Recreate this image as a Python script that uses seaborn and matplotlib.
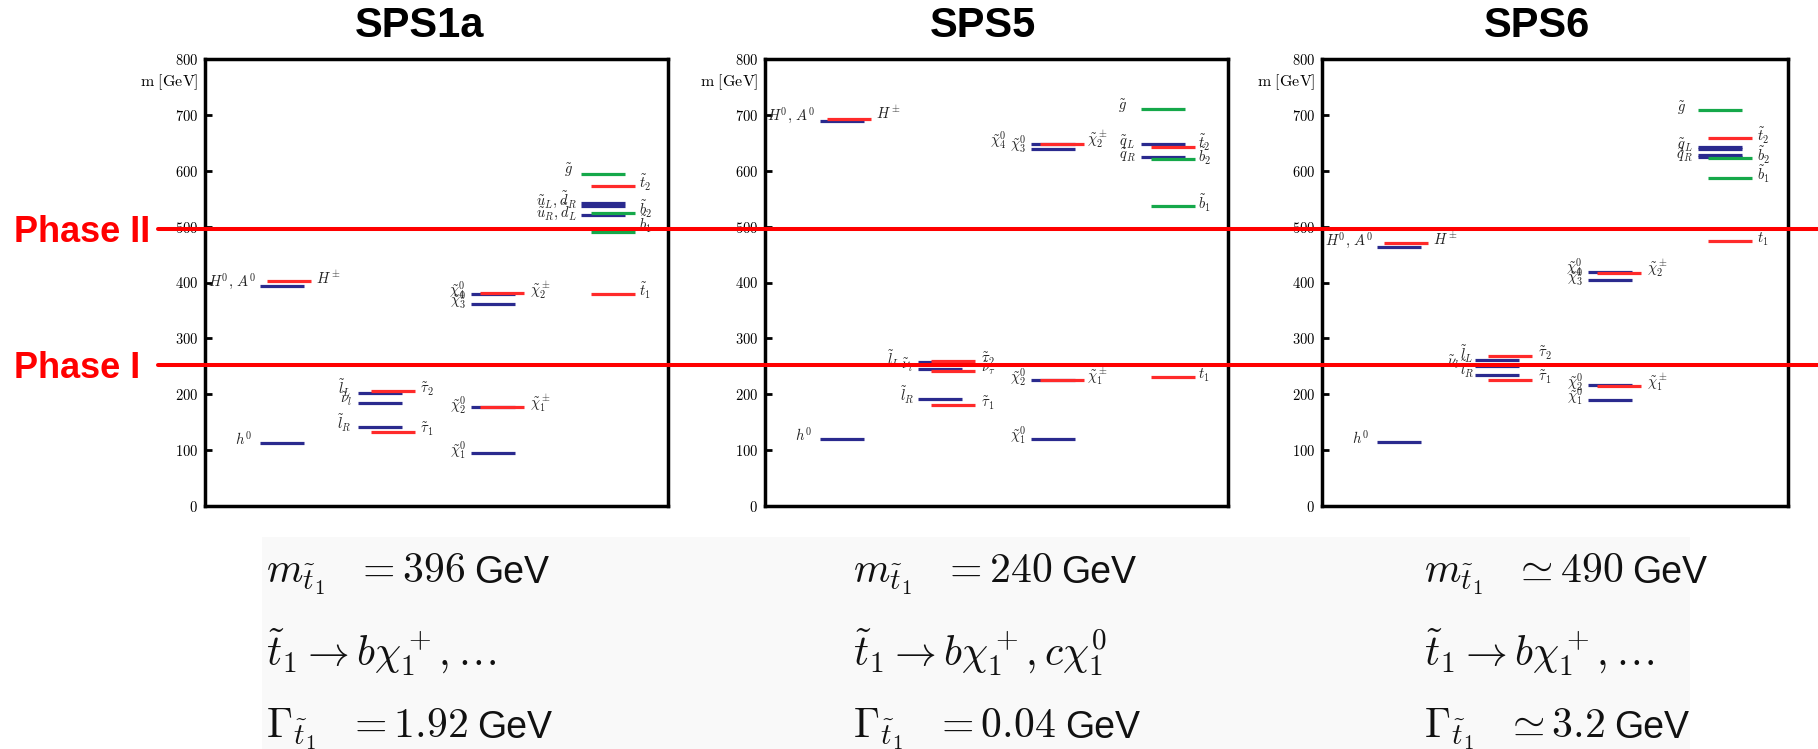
import matplotlib
matplotlib.use("Agg")
import matplotlib.pyplot as plt
import matplotlib.transforms as mtransforms
from matplotlib.lines import Line2D
from matplotlib.patches import Rectangle
import numpy as np
import pandas as pd
import seaborn as sns

# ---------------------------------------------------------------------------
# Mass spectra (GeV).  Column: 0 Higgs, 1 sleptons, 2 gauginos, 3 squarks/gluino
# ---------------------------------------------------------------------------
sps1a_names = ["h0", "H0A0", "Hpm", "lL", "nul", "lR", "tau2", "tau1",
               "chi10", "chi20", "chi30", "chi40", "chi1pm", "chi2pm",
               "gluino", "t2", "uL_dR", "uL_dR_b", "b2", "uR_dL", "b1", "t1"]
sps1a_cols = [0, 0, 0, 1, 1, 1, 1, 1, 2, 2, 2, 2, 2, 2, 3, 3, 3, 3, 3, 3, 3, 3]
sps1a_kind = ["blue", "blue", "red", "blue", "blue", "blue", "red", "red",
              "blue", "blue", "blue", "blue", "red", "red",
              "green", "red", "blue", "blue", "green", "blue", "green", "red"]
sps1a_mass = [113, 394, 402, 201.5, 185, 142, 206, 133,
              95, 177, 361, 380, 177, 382,
              595, 573, 543, 537, 524, 520, 491, 379]

sps5_names = ["h0", "H0A0", "Hpm", "lL", "nul", "lR", "tau2", "nutau", "tau1",
              "chi10", "chi20", "chi30", "chi40", "chi1pm", "chi2pm",
              "gluino", "qL", "t2", "qR", "b2", "b1", "t1"]
sps5_cols = [0, 0, 0, 1, 1, 1, 1, 1, 1, 2, 2, 2, 2, 2, 2, 3, 3, 3, 3, 3, 3, 3]
sps5_kind = ["blue", "blue", "red", "blue", "blue", "blue", "red", "red", "red",
             "blue", "blue", "blue", "blue", "red", "red",
             "green", "blue", "red", "blue", "green", "green", "red"]
sps5_mass = [120, 689, 693, 257.5, 245, 190.7, 259, 242, 180.6,
             120, 225.4, 639, 648.7, 225.4, 648.7,
             710, 647.5, 642.6, 624, 621.7, 536.4, 230]

sps6_names = ["h0", "H0A0", "Hpm", "lL", "nul", "lR", "tau2", "tau1",
              "chi10", "chi20", "chi30", "chi40", "chi1pm", "chi2pm",
              "gluino", "t2", "qL", "qL_b", "qR", "qR_b", "b2", "b1", "t1"]
sps6_cols = [0, 0, 0, 1, 1, 1, 1, 1, 2, 2, 2, 2, 2, 2, 3, 3, 3, 3, 3, 3, 3, 3, 3]
sps6_kind = ["blue", "blue", "red", "blue", "blue", "blue", "red", "red",
             "blue", "blue", "blue", "blue", "red", "red",
             "green", "red", "blue", "blue", "blue", "blue", "green", "green", "red"]
sps6_mass = [114.8, 464, 471, 262, 250, 234, 268, 226,
             189.5, 217.4, 404, 418.3, 215.6, 417,
             708, 658, 642, 638.5, 628, 625, 623, 587, 474]

titles = ["SPS1a", "SPS5", "SPS6"]

# Particle name labels: (tex, x offset in axis px, mass position, alignment)
sps1a_labels = [
    (r"$h^0$", 47, 120, "right"), (r"$H^0,\,A^0$", 51, 401, "right"),
    (r"$H^\pm$", 111, 408, "left"),
    (r"$\tilde{l}_L$", 147, 210, "right"), (r"$\tilde{\nu}_l$", 147, 190, "right"),
    (r"$\tilde{l}_R$", 147, 148, "right"),
    (r"$\tilde{\tau}_2$", 215, 209, "left"), (r"$\tilde{\tau}_1$", 215, 137, "left"),
    (r"$\tilde{\chi}_4^0$", 261, 386, "right"), (r"$\tilde{\chi}_3^0$", 261, 368, "right"),
    (r"$\tilde{\chi}_2^\pm$", 325, 386, "left"),
    (r"$\tilde{\chi}_2^0$", 261, 181, "right"), (r"$\tilde{\chi}_1^\pm$", 325, 184, "left"),
    (r"$\tilde{\chi}_1^0$", 261, 100, "right"),
    (r"$\tilde{g}$", 368, 601, "right"), (r"$\tilde{t}_2$", 434, 579, "left"),
    (r"$\tilde{u}_L,\tilde{d}_R$", 372, 548, "right"),
    (r"$\tilde{u}_R,\tilde{d}_L$", 372, 527, "right"),
    (r"$\tilde{b}_2$", 434, 531, "left"), (r"$\tilde{b}_1$", 434, 503, "left"),
    (r"$\tilde{t}_1$", 434, 385, "left"),
]
sps5_labels = [
    (r"$h^0$", 47, 127, "right"), (r"$H^0,\,A^0$", 50, 698, "right"),
    (r"$H^\pm$", 111, 703, "left"),
    (r"$\tilde{l}_L$", 136, 262, "right"), (r"$\tilde{\nu}_l$", 148, 252, "right"),
    (r"$\tilde{l}_R$", 150, 198, "right"),
    (r"$\tilde{\tau}_2$", 216, 262, "left"), (r"$\tilde{\nu}_\tau$", 216, 246, "left"),
    (r"$\tilde{\tau}_1$", 216, 184, "left"),
    (r"$\tilde{\chi}_4^0$", 242, 655, "right"), (r"$\tilde{\chi}_3^0$", 261, 647, "right"),
    (r"$\tilde{\chi}_2^\pm$", 322, 656, "left"),
    (r"$\tilde{\chi}_2^0$", 261, 231, "right"), (r"$\tilde{\chi}_1^\pm$", 322, 232, "left"),
    (r"$\tilde{\chi}_1^0$", 261, 127, "right"),
    (r"$\tilde{g}$", 362, 715, "right"),
    (r"$\tilde{q}_L$", 370, 651, "right"), (r"$\tilde{q}_R$", 371, 627, "right"),
    (r"$\tilde{t}_2$", 433, 649, "left"), (r"$\tilde{b}_2$", 433, 626, "left"),
    (r"$\tilde{b}_1$", 433, 541, "left"), (r"$\tilde{t}_1$", 433, 236, "left"),
]
sps6_labels = [
    (r"$h^0$", 47, 122, "right"), (r"$H^0,\,A^0$", 51, 474, "right"),
    (r"$H^\pm$", 111, 479, "left"),
    (r"$\tilde{l}_L$", 152, 271, "right"), (r"$\tilde{\nu}_l$", 137, 257, "right"),
    (r"$\tilde{l}_R$", 153, 244, "right"),
    (r"$\tilde{\tau}_2$", 216, 273, "left"), (r"$\tilde{\tau}_1$", 216, 230, "left"),
    (r"$\tilde{\chi}_4^0$", 261, 428, "right"), (r"$\tilde{\chi}_3^0$", 261, 410, "right"),
    (r"$\tilde{\chi}_2^\pm$", 325, 426, "left"),
    (r"$\tilde{\chi}_2^0$", 261, 222, "right"), (r"$\tilde{\chi}_1^0$", 261, 197, "right"),
    (r"$\tilde{\chi}_1^\pm$", 325, 222, "left"),
    (r"$\tilde{g}$", 364, 712, "right"), (r"$\tilde{t}_2$", 435, 663, "left"),
    (r"$\tilde{q}_L$", 371, 646, "right"), (r"$\tilde{q}_R$", 371, 627, "right"),
    (r"$\tilde{b}_2$", 435, 628, "left"), (r"$\tilde{b}_1$", 435, 593, "left"),
    (r"$\tilde{t}_1$", 435, 480, "left"),
]

# Light-stop summary lines under each panel: (math part, unit)
stop_mass_text = [(r"$m_{\tilde{t}_1}\;\;\,=396$", "GeV"),
                  (r"$m_{\tilde{t}_1}\;\;\,=240$", "GeV"),
                  (r"$m_{\tilde{t}_1}\;\;\,\simeq490$", "GeV")]
stop_decay_text = [(r"$\tilde{t}_1\rightarrow b\chi_1^+,\ldots$", ""),
                   (r"$\tilde{t}_1\rightarrow b\chi_1^+,c\chi_1^0$", ""),
                   (r"$\tilde{t}_1\rightarrow b\chi_1^+,\ldots$", "")]
stop_width_text = [(r"$\Gamma_{\tilde{t}_1}\;\;\,=1.92$", "GeV"),
                   (r"$\Gamma_{\tilde{t}_1}\;\;\,=0.04$", "GeV"),
                   (r"$\Gamma_{\tilde{t}_1}\;\;\,\simeq3.2$", "GeV")]

# Reach thresholds (GeV)
phase_names = ["Phase I", "Phase II"]
phase_levels = [252, 495]

# ---------------------------------------------------------------------------
sns.set_theme(style="white")
plt.rcParams["mathtext.fontset"] = "cm"
plt.rcParams["font.family"] = ["Liberation Sans", "DejaVu Sans"]

W, H = 1818, 749
fig = plt.figure(figsize=(W / 100, H / 100), dpi=100)
fig.patch.set_facecolor("white")

palette = {"blue": "#2a2a8e", "green": "#15a84a", "red": "#ff2a2a"}
seg_len = 44
col_start = [55, 153, 266, 376]
col_shift = [7, 13, 9, 10]

panels = [
    (sps1a_names, sps1a_cols, sps1a_kind, sps1a_mass, sps1a_labels),
    (sps5_names, sps5_cols, sps5_kind, sps5_mass, sps5_labels),
    (sps6_names, sps6_cols, sps6_kind, sps6_mass, sps6_labels),
]
panel_px = [(205, 463), (765, 463), (1322, 466)]
top_px, bot_px = 59, 506
title_cx = [420, 983, 1537]

axes = []
for (names, cols, kinds, masses, labels), (lpx, wpx), title, tcx in zip(
        panels, panel_px, titles, title_cx):
    ax = fig.add_axes([lpx / W, 1 - bot_px / H, wpx / W, (bot_px - top_px) / H])
    axes.append(ax)

    rows = []
    for i, (n, c, k, m) in enumerate(zip(names, cols, kinds, masses)):
        lane = 0 if (k == "blue" or n == "gluino") else 1
        x0 = col_start[c] + lane * col_shift[c]
        rows.append({"seg": i, "kind": k, "x": x0, "mass": m})
        rows.append({"seg": i, "kind": k, "x": x0 + seg_len, "mass": m})
    seg = pd.DataFrame(rows)
    sns.lineplot(data=seg, x="x", y="mass", hue="kind", units="seg",
                 estimator=None, sort=False, palette=palette,
                 hue_order=["blue", "green", "red"], linewidth=2.3,
                 legend=False, ax=ax, solid_capstyle="butt")

    for tex, x, y, ha in labels:
        ax.text(x, y, tex, ha=ha, va="center", fontsize=10.5, color="#222222")

    ax.set_xlim(0, wpx)
    ax.set_ylim(0, 800)
    ax.set_xlabel("")
    ax.set_ylabel("")
    ax.set_xticks([])
    ticks = np.arange(0, 801, 100)
    ax.set_yticks(ticks)
    ax.set_yticklabels([f"${t}$" for t in ticks])
    ax.tick_params(axis="y", left=True, direction="in", length=5, width=2,
                   pad=5, labelsize=10.5, colors="black")
    ax.text(-7, 758, r"$\mathrm{m\ [GeV]}$", ha="right", va="center",
            fontsize=11.5, color="black", clip_on=False)
    for sp in ax.spines.values():
        sp.set_visible(True)
        sp.set_color("black")
        sp.set_linewidth(2.5)
    ax.set_facecolor("white")

    fig.text(tcx / W, 1 - 37 / H, title, ha="center", va="baseline",
             fontsize=30, fontweight="bold", color="black")

# Background panel behind the summary text
fig.add_artist(Rectangle((262 / W, 0), (1690 - 262) / W, (H - 537) / H,
                         transform=fig.transFigure, facecolor="#f9f9f9",
                         edgecolor="none", zorder=-5))

renderer = fig.canvas.get_renderer()
text_x = [266, 853, 1424]
row_base = [583, 665, 738]
for col, xs in enumerate(text_x):
    for r, (math, unit) in enumerate([stop_mass_text[col], stop_decay_text[col],
                                      stop_width_text[col]]):
        t = fig.text(xs / W, 1 - row_base[r] / H, math, ha="left",
                     va="baseline", fontsize=30, color="#111111")
        if unit:
            bb = t.get_window_extent(renderer)
            fig.text((bb.x1 + 9) / W, 1 - row_base[r] / H, unit, ha="left",
                     va="baseline", fontsize=27, color="#111111")

# Phase reach lines spanning all panels
blend = mtransforms.blended_transform_factory(fig.transFigure, axes[0].transData)
shift = mtransforms.ScaledTranslation(0, -13 / 100, fig.dpi_scale_trans)
for name, lvl in zip(phase_names, phase_levels):
    fig.add_artist(Line2D([158 / W, 1.0], [lvl, lvl], transform=blend,
                          color="#ff0000", linewidth=2.9, zorder=10))
    fig.text(14 / W, lvl, name, transform=blend + shift, ha="left",
             va="baseline", fontsize=26, fontweight="bold", color="#ff0000")

fig.savefig("out.png", dpi=100, facecolor="white")
